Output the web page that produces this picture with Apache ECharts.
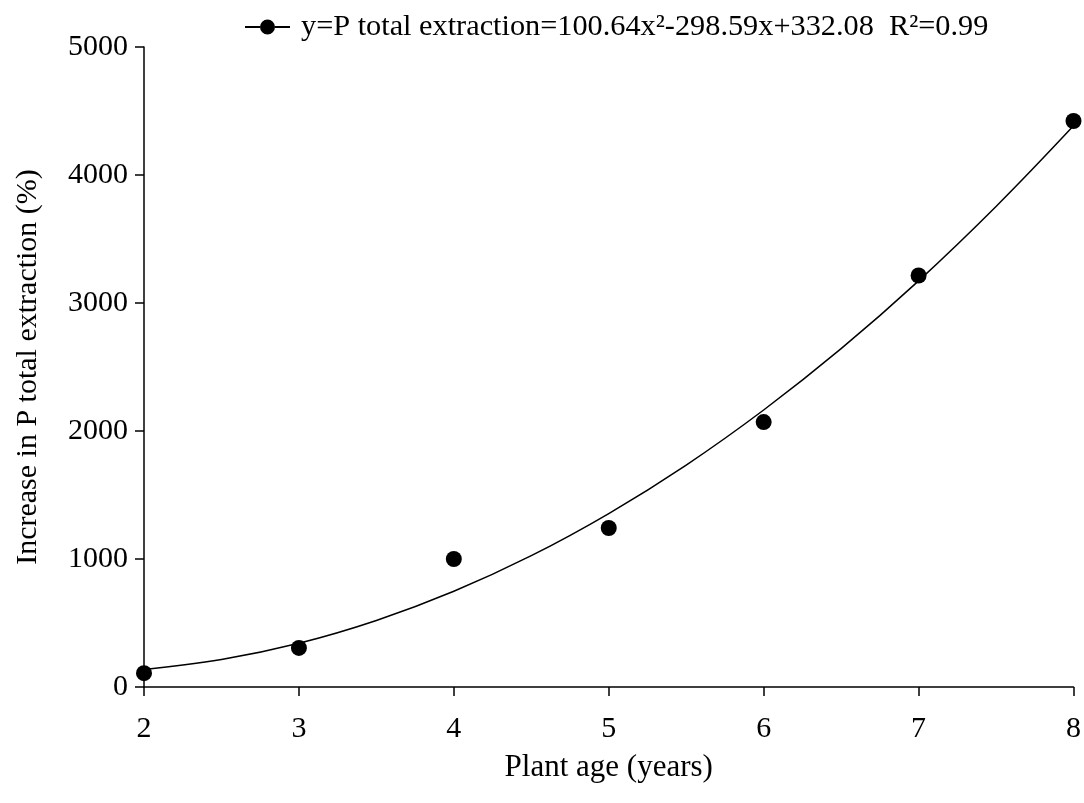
<!DOCTYPE html>
<html>
<head>
<meta charset="utf-8">
<script src="https://cdn.jsdelivr.net/npm/echarts@6/dist/echarts.min.js"></script>
<style>html,body{margin:0;padding:0;background:#fff}#c{width:1084px;height:803px}</style>
</head>
<body>
<div id="c"></div>
<script>
// Observed data (plant age, % increase)
const ages = [2, 3, 4, 5, 6, 7, 8];
const increase = [108, 305, 1000, 1242, 2070, 3215, 4422];
// Fitted curve values
const fitAges = [2, 2.5, 3, 3.5, 4, 4.5, 5, 5.5, 6, 6.5, 7, 7.5, 8];
const fitValues = [137, 215, 342, 520, 748, 1026, 1355, 1734, 2164, 2643, 3173, 3754, 4384];
const xTicks = { min: 2, max: 8, interval: 1 };
const yTicks = { min: 0, max: 5000, interval: 1000 };
const legendLabel = 'y=P total extraction=100.64x²-298.59x+332.08  R²=0.99';

const font = '"Liberation Serif","Times New Roman",serif';
const chart = echarts.init(document.getElementById('c'), null, {renderer: 'canvas'});
chart.setOption({
  animation: false,
  backgroundColor: '#fff',
  grid: { left: 144, right: 9, top: 47, bottom: 116 },
  legend: {
    left: 245, top: 12, padding: 0,
    itemWidth: 45, itemHeight: 15, itemGap: 10,
    icon: 'path://M0,6.5L15,6.5L15,8.5L0,8.5Z M30,6.5L45,6.5L45,8.5L30,8.5Z M15,7.5A7.5,7.5,0,1,0,30,7.5A7.5,7.5,0,1,0,15,7.5Z',
    data: [legendLabel],
    itemStyle: { color: '#000', opacity: 1 },
    textStyle: { fontFamily: font, fontSize: 30.3, color: '#000', padding: [0, 0, 0, 6] }
  },
  xAxis: {
    type: 'value', min: xTicks.min, max: xTicks.max, interval: xTicks.interval,
    name: 'Plant age (years)', nameLocation: 'middle', nameGap: 65,
    nameTextStyle: { fontFamily: font, fontSize: 31, color: '#000' },
    axisLine: { lineStyle: { color: '#000', width: 1.5 } },
    axisTick: { show: true, inside: false, length: 9, lineStyle: { color: '#000', width: 1.5 } },
    axisLabel: { fontFamily: font, fontSize: 30, color: '#000', margin: 27 },
    splitLine: { show: false }
  },
  yAxis: {
    type: 'value', min: yTicks.min, max: yTicks.max, interval: yTicks.interval,
    name: 'Increase in P total extraction (%)', nameLocation: 'middle', nameGap: 101,
    nameTextStyle: { fontFamily: font, fontSize: 30, color: '#000' },
    axisLine: { show: true, lineStyle: { color: '#000', width: 1.5 } },
    axisTick: { show: true, inside: false, length: 9, lineStyle: { color: '#000', width: 1.5 } },
    axisLabel: { fontFamily: font, fontSize: 30, color: '#000', margin: 16, formatter: v => String(v) },
    splitLine: { show: false }
  },
  series: [
    {
      name: 'fit', type: 'line', smooth: 0.4, symbol: 'none',
      data: fitAges.map((x, i) => [x, fitValues[i]]),
      lineStyle: { color: '#000', width: 1.5 }, z: 2
    },
    {
      name: legendLabel, type: 'scatter', symbol: 'circle', symbolSize: 16,
      data: ages.map((x, i) => [x, increase[i]]),
      itemStyle: { color: '#000', opacity: 1 }, z: 3
    }
  ]
});
</script>
</body>
</html>
